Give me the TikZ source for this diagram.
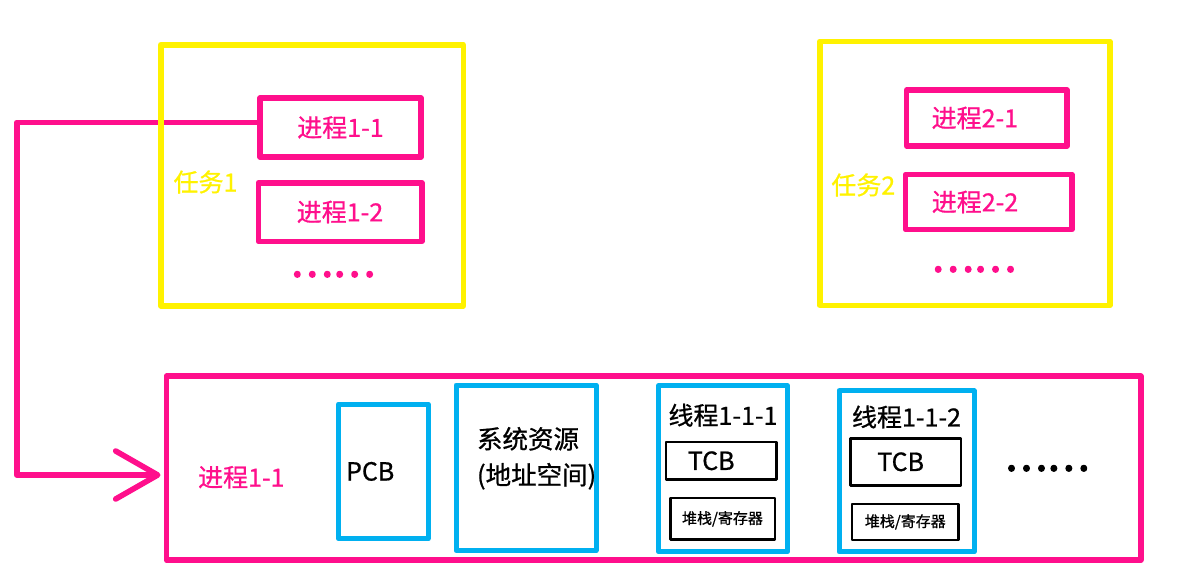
\documentclass[tikz,border=0pt]{standalone}
\usepackage{fontspec}
\newfontfamily\cjk[FakeBold=0.8]{Noto Sans CJK SC}
\newfontfamily\cjkdots[FakeBold=4]{Noto Sans CJK SC}
\usetikzlibrary{arrows.meta}
\definecolor{hotpink}{HTML}{FF0F8C}
\definecolor{taskyellow}{HTML}{FFF200}
\definecolor{skyblue}{HTML}{00B0F0}
\begin{document}
\begin{tikzpicture}[x=0.5pt,y=-0.5pt,line join=round,line cap=round,
	font=\cjk\fontsize{12.5pt}{18pt}\selectfont,
	>={Straight Barb[length=21pt,width=24pt,round]},
	task/.style={draw=taskyellow,line width=2.8pt,inner sep=0pt},
	proc/.style={draw=hotpink,line width=2.8pt,text=hotpink,inner sep=0pt},
	part/.style={draw=skyblue,line width=2.5pt,inner sep=0pt},
	inbox/.style={draw=black,line width=1.2pt,inner sep=0pt},
	small/.style={font=\cjk\fontsize{7.5pt}{9pt}\selectfont},
	dots/.style={font=\cjkdots\fontsize{20pt}{20pt}\selectfont}]
	\useasboundingbox (0,0) rectangle (1184,585);
	\node[proc,minimum width=80.5pt,minimum height=29.5pt] (p11) at (340.5,127.5) {进程1-1};
	\node[proc,minimum width=81.7pt,minimum height=29.3pt] (p12) at (340,212) {进程1-2};
	\node[dots,text=hotpink] (dots1) at (332.8,274.3) {……};
	\node[proc,minimum height=28pt,text width=55.2pt,align=left,inner xsep=12.5pt] (p21) at (986.8,118) {进程2-1};
	\node[proc,minimum height=27.5pt,text width=56.9pt,align=left,inner xsep=13.2pt] (p22) at (988.7,202) {进程2-2};
	\node[dots,text=hotpink] (dots2) at (973.7,269.3) {……};
	\node[proc,minimum width=487.2pt,minimum height=91.9pt] (proc) at (653.5,468.1) {};
	\node[text=hotpink] (procl) at (241.3,477.3) {进程1-1};
	\coordinate (turn) at (16.7,122.3);
	\draw[draw=hotpink,line width=2.8pt,->,shorten >=1.5pt] ([yshift=2.6pt]p11.west) -- (turn) |- ([yshift=-3.45pt]proc.west);
	\node[task,minimum width=151.3pt,minimum height=130.5pt] (task1) at (312,175.2) {};
	\node[text=taskyellow] (task1l) at (205.5,182) {任务1};
	\node[task,minimum width=145pt,minimum height=132pt] (task2) at (964.7,173.3) {};
	\node[text=taskyellow] (task2l) at (863.3,185) {任务2};
	\node[part,minimum height=67.4pt,text width=37.1pt,align=left,inner xsep=3.85pt] (pcb) at (383.2,471.4) {PCB};
	\node[part,text width=49pt,align=left,inner xsep=10.5pt,text height=31.75pt,text depth=51pt,
		font=\cjk\fontsize{12.75pt}{18pt}\selectfont] (sys) at (526,467.75) {系统资源\\(地址空间)};
	\node[part,minimum width=64.5pt,text height=19.5pt,text depth=63.5pt] (t1) at (723,468.75) {线程1-1-1};
	\node[inbox,minimum height=18.75pt,text width=33.4pt,align=left,inner xsep=10.9pt] (tcb1) at (721.3,460.75) {TCB};
	\node[inbox,small,minimum width=52.2pt,minimum height=20.8pt] (stk1) at (722.5,518.8) {堆栈/寄存器};
	\node[part,minimum width=67.5pt,text height=17.9pt,text depth=62.75pt] (t2) at (906.5,471.3) {线程1-1-2};
	\node[inbox,minimum height=23.5pt,text width=28.2pt,align=left,inner xsep=13.5pt] (tcb2) at (905.5,461.8) {TCB};
	\node[inbox,small,minimum width=53.3pt,minimum height=17.9pt] (stk2) at (905.3,521.9) {堆栈/寄存器};
	\node[dots] (dots3) at (1047,468.3) {……};
\end{tikzpicture}
\end{document}
